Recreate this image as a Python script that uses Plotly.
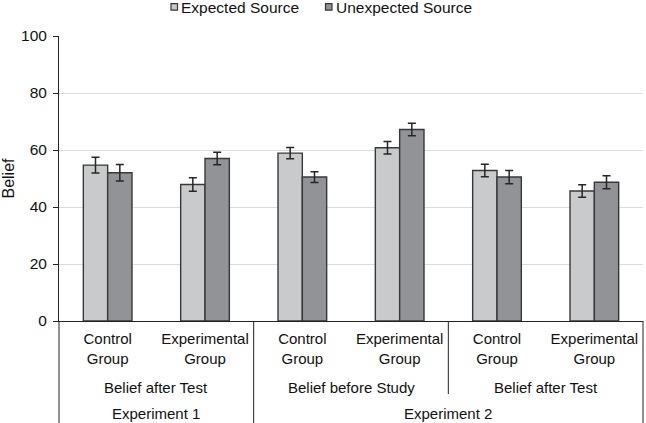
import plotly.graph_objects as go

# ---- data ----
groups = ["Control<br>Group", "Experimental<br>Group",
          "Control<br>Group", "Experimental<br>Group",
          "Control<br>Group", "Experimental<br>Group"]
measures = ["Belief after Test", "Belief before Study", "Belief after Test"]
experiments = ["Experiment 1", "Experiment 2"]
expected = [54.7, 47.9, 58.9, 60.8, 52.8, 45.6]
expected_err = [2.8, 2.4, 2.0, 2.2, 2.2, 2.2]
unexpected = [52.0, 57.0, 50.5, 67.2, 50.5, 48.7]
unexpected_err = [2.9, 2.2, 1.9, 2.2, 2.3, 2.3]
series_names = ["Expected Source", "Unexpected Source"]
yticks = [0, 20, 40, 60, 80, 100]

# ---- layout geometry ----
W, H = 646, 423
ML, MR, MT, MB = 59, 3, 36, 102
plot_w = W - ML - MR
plot_h = H - MT - MB
FONT = "Liberation Sans, Arial, sans-serif"
TXT = "#111111"
LIGHT = "#c9cacc"
DARK = "#929397"
EDGE = "#383838"
colors = [LIGHT, DARK]

xs = list(range(len(groups)))

fig = go.Figure()
for name, vals, errs, col in [(series_names[0], expected, expected_err, LIGHT),
                              (series_names[1], unexpected, unexpected_err, DARK)]:
    fig.add_trace(go.Bar(
        name=name, x=xs, y=vals,
        marker=dict(color=col, line=dict(color=EDGE, width=1.4)),
        error_y=dict(type="data", array=errs, color="#262626", thickness=1.5, width=4),
    ))


def px_x(px):
    """paper x for a figure pixel column"""
    return (px - ML) / plot_w


def px_y(py):
    """paper y for a figure pixel row"""
    return (H - MB - py) / plot_h


def xpaper(v):
    return (v + 0.5) / len(groups)


# separators of the category axis
bottom = px_y(H)
seps = [(-0.5, bottom), (1.5, bottom), (3.5, px_y(394)), (5.5, bottom)]
shapes = []
for xv, y1 in seps:
    shapes.append(dict(type="line", xref="paper", yref="paper",
                       x0=xpaper(xv), x1=xpaper(xv), y0=0, y1=y1,
                       line=dict(color="#222", width=1)))

annotations = []
# second level
for i, m in enumerate(measures):
    annotations.append(dict(text=m, xref="paper", yref="paper",
                            x=xpaper(2 * i + 0.5), y=px_y(387),
                            showarrow=False, xanchor="center", yanchor="middle",
                            font=dict(size=15, color=TXT, family=FONT)))
# third level
for xv, e in zip([0.5, 3.5], experiments):
    annotations.append(dict(text=e, xref="paper", yref="paper",
                            x=xpaper(xv), y=px_y(413.5), showarrow=False,
                            xanchor="center", yanchor="middle",
                            font=dict(size=15, color=TXT, family=FONT)))

# legend (drawn in figure pixels)
legend_sq = [171, 325.5]
for sx, name, col in zip(legend_sq, series_names, colors):
    shapes.append(dict(type="rect", xref="paper", yref="paper",
                       x0=px_x(sx), x1=px_x(sx + 6.5), y0=px_y(3.7), y1=px_y(10.2),
                       fillcolor=col, line=dict(color=EDGE, width=1.2)))
    annotations.append(dict(text=name, xref="paper", yref="paper",
                            x=px_x(sx + 8), y=px_y(7.5), showarrow=False,
                            xanchor="left", yanchor="middle",
                            font=dict(size=15.5, color=TXT, family=FONT)))

fig.update_layout(
    width=W, height=H,
    margin=dict(l=ML, r=MR, t=MT, b=MB, pad=0, autoexpand=False),
    paper_bgcolor="white", plot_bgcolor="white",
    barmode="group", bargap=0.5, bargroupgap=0,
    font=dict(family=FONT, size=15, color=TXT),
    showlegend=False,
    xaxis=dict(range=[-0.5, 5.5], tickvals=xs, ticktext=groups,
               showline=True, linecolor="#222", linewidth=1,
               ticks="", showgrid=False, zeroline=False, ticklabelstandoff=4,
               tickfont=dict(size=15, color=TXT, family=FONT)),
    yaxis=dict(range=[0, 100], tickvals=yticks,
               showline=True, linecolor="#222", linewidth=1,
               ticks="outside", ticklen=5, tickcolor="#222",
               gridcolor="#dcdcdc", gridwidth=1.2, zeroline=False,
               ticklabelstandoff=3,
               tickfont=dict(size=15.5, color=TXT, family=FONT),
               title=dict(text="Belief", font=dict(size=16, color=TXT, family=FONT),
                          standoff=5)),
    shapes=shapes,
    annotations=annotations,
)

fig.write_html("out.html")
